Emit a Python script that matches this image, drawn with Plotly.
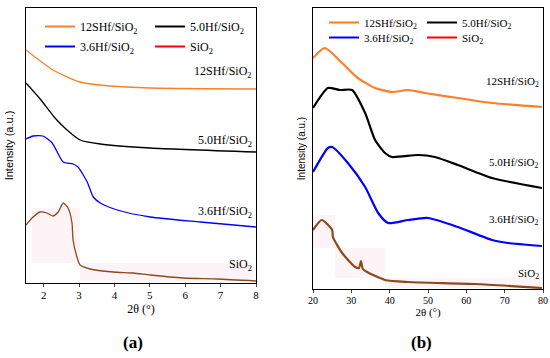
import plotly.graph_objects as go

W, H = 550, 358

# ---------------- data ----------------
a_theta_12 = [1.5, 2.26, 3.03, 3.88, 5.01, 8.0]
a_int_12 = [233, 213, 201, 197, 195, 194]

a_theta_50 = [1.5, 1.90, 2.32, 2.66, 3.03, 3.60, 5.01, 8.0]
a_int_50 = [200, 184, 165, 153, 143, 139, 135, 131]

a_theta_36 = [1.5, 1.70, 1.98, 2.24, 2.55, 2.83, 2.97, 3.23, 3.40, 3.60, 4.08, 5.01, 6.43, 8.0]
a_int_36 = [144, 147, 147, 140, 121, 119, 116, 101, 86, 80, 73, 66, 61, 56]

a_theta_si = [1.5, 1.67, 1.90, 2.09, 2.26, 2.41, 2.55, 2.69, 2.80, 2.83, 2.94, 3.03, 3.31,
              3.96, 4.53, 5.01, 5.95, 6.91, 8.0]
a_int_si = [58, 65, 71, 70, 67, 71, 80, 75, 60, 43, 26, 18, 14, 11, 10, 8, 5, 4, 2]

b_theta_12 = [20, 23.1, 27.6, 31.7, 36.2, 40.6, 44.8, 49.2, 57.8, 66.7, 79.7]
b_int_12 = [231, 241, 226, 211, 201, 197, 199, 196, 191, 186, 182]

b_theta_50 = [20, 23.9, 27.0, 30.2, 33.6, 36.2, 38.8, 40.6, 47.4, 51.8, 57.8, 66.7, 79.7]
b_int_50 = [181, 201, 199, 199, 176, 149, 136, 132, 134, 132, 124, 111, 101]

b_theta_36 = [20, 23.9, 25.0, 29.1, 33.6, 37.0, 39.6, 44.8, 50.0, 57.8, 66.7, 70.9, 79.7]
b_int_36 = [117, 141, 142, 126, 102, 76, 66, 69, 71, 62, 49, 46, 43]

b_theta_si = [20, 22.3, 25.0, 25.2, 27.6, 31.0, 32.0, 32.5, 33.0, 34.1, 38.8, 44.8, 62.3, 79.7]
b_int_si = [59, 69, 59, 52, 36, 22, 21, 28, 20, 17, 9, 7, 5, 1]

names = ["12SHf/SiO<sub>2</sub>", "5.0Hf/SiO<sub>2</sub>", "3.6Hf/SiO<sub>2</sub>", "SiO<sub>2</sub>"]
a_ticks = [2, 3, 4, 5, 6, 7, 8]
b_ticks = [20, 30, 40, 50, 60, 70, 80]

C_OR, C_BK, C_BL, C_BR, C_RD = "#FF7F27", "#000000", "#0000FF", "#8B4A1C", "#FF0000"

SERIF = "Liberation Serif"
SANS = "Liberation Sans"


def px(x):
    return x / W


def py(y):
    return 1 - y / H


fig = go.Figure()

# very faint pink patches behind the SiO2 curves (as in the scanned figure)
pink_rects = [(32, 208, 80, 263), (80, 263, 253, 281),
              (313, 215, 335, 248), (335, 248, 385, 278), (385, 278, 542, 288)]
for x0, y0, x1, y1 in pink_rects:
    fig.add_shape(type="rect", xref="paper", yref="paper", x0=px(x0), x1=px(x1), y0=py(y1), y1=py(y0),
                  fillcolor="#FEF3F7", line=dict(width=0), layer="below")

panels = [
    ("x", "y", [(a_theta_12, a_int_12), (a_theta_50, a_int_50), (a_theta_36, a_int_36), (a_theta_si, a_int_si)],
     1.3, ("legend", "legend2"), "a"),
    ("x2", "y2", [(b_theta_12, b_int_12), (b_theta_50, b_int_50), (b_theta_36, b_int_36), (b_theta_si, b_int_si)],
     2.2, ("legend3", "legend4"), "b"),
]
line_cols = [C_OR, C_BK, C_BL, C_BR]
leg_cols = [C_OR, C_BK, C_BL, C_RD]

for xa, ya, series, lw, legs, tag in panels:
    for i, (xs, ys) in enumerate(series):
        fig.add_trace(go.Scatter(x=xs, y=ys, mode="lines", xaxis=xa, yaxis=ya,
                                 line=dict(color=line_cols[i], width=lw, shape="spline", smoothing=0.6),
                                 showlegend=False, hoverinfo="skip"))
    # legend rows: (12S, 5.0) then (3.6, SiO2)
    for i in range(4):
        leg = legs[0] if i < 2 else legs[1]
        fig.add_trace(go.Scatter(x=[None], y=[None], mode="lines", xaxis=xa, yaxis=ya,
                                 name=names[i], legend=leg,
                                 line=dict(color=leg_cols[i], width=2)))

axis_common = dict(showline=True, linecolor="black", linewidth=1.3, mirror=True,
                   showgrid=False, zeroline=False, automargin=False)

fig.update_layout(
    width=W, height=H,
    margin=dict(l=0, r=0, t=0, b=0, autoexpand=False),
    paper_bgcolor="white", plot_bgcolor="white",
    font=dict(family=SERIF, size=10, color="black"),
    xaxis=dict(domain=[px(26), px(256)], range=[1.5, 8], tickvals=a_ticks, ticks="outside", ticklen=3,
               tickwidth=1, tickfont=dict(family=SERIF, size=11), ticklabelstandoff=-1,
               title=dict(text="2θ (°)", font=dict(family=SERIF, size=12), standoff=4),
               anchor="y", **axis_common),
    yaxis=dict(domain=[py(283), py(8)], range=[0, 275], showticklabels=False, ticks="",
               title=dict(text="Intensity (a.u.)", font=dict(family=SANS, size=11), standoff=9),
               anchor="x", **axis_common),
    xaxis2=dict(domain=[px(313), px(543)], range=[20, 80], tickvals=b_ticks, ticks="outside", ticklen=3,
                tickwidth=1, tickfont=dict(family=SERIF, size=10), ticklabelstandoff=-1,
                title=dict(text="2θ (°)", font=dict(family=SERIF, size=11), standoff=0),
                anchor="y2", **axis_common),
    yaxis2=dict(domain=[py(289), py(8)], range=[0, 281], showticklabels=False, ticks="",
                title=dict(text="Intensity (a.u.)", font=dict(family=SANS, size=10), standoff=4),
                anchor="x2", **axis_common),
)

leg_common = dict(bgcolor="rgba(0,0,0,0)", borderwidth=0, xanchor="left", yanchor="top",
                  orientation="h", itemclick=False, itemdoubleclick=False,
                  entrywidthmode="pixels")
fig.update_layout(
    legend=dict(x=px(40), y=py(12), font=dict(family=SERIF, size=12), entrywidth=65, **leg_common),
    legend2=dict(x=px(40), y=py(32), font=dict(family=SERIF, size=12), entrywidth=65, **leg_common),
    legend3=dict(x=px(324), y=py(8), font=dict(family=SERIF, size=11), entrywidth=53, **leg_common),
    legend4=dict(x=px(324), y=py(23), font=dict(family=SERIF, size=11), entrywidth=53, **leg_common),
)

labels = [
    (254, 72, names[0], 12), (254, 141, names[1], 12), (254, 212, names[2], 12), (254, 265, names[3], 12),
    (541, 82, names[0], 11), (541, 163, names[1], 11), (541, 220, names[2], 11), (541, 274, names[3], 11),
]
for x, y, t, s in labels:
    fig.add_annotation(x=px(x), y=py(y), xref="paper", yref="paper", text=t, showarrow=False,
                       xanchor="right", yanchor="middle", font=dict(family=SERIF, size=s))

fig.add_annotation(x=px(133), y=py(342), xref="paper", yref="paper", text="<b>(a)</b>", showarrow=False,
                   xanchor="center", yanchor="middle", font=dict(family=SERIF, size=17))
fig.add_annotation(x=px(422), y=py(342), xref="paper", yref="paper", text="<b>(b)</b>", showarrow=False,
                   xanchor="center", yanchor="middle", font=dict(family=SERIF, size=17))

fig.write_html("out.html", config={"displayModeBar": False},
               post_script="document.body.style.margin='0';document.body.style.padding='0';")
